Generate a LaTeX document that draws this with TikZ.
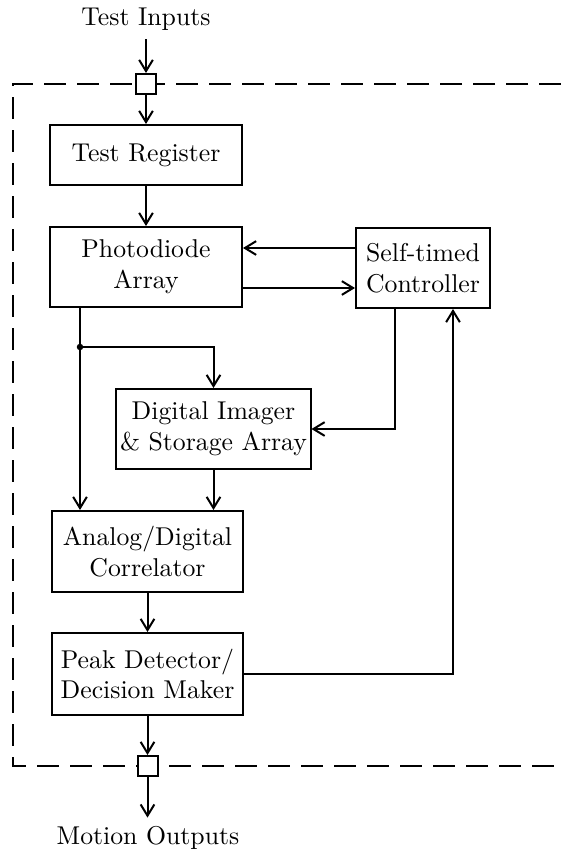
\documentclass[tikz,border=0pt]{standalone}
\usetikzlibrary{arrows.meta}
\begin{document}
\begin{tikzpicture}[x=0.4pt,y=-0.4pt,
  every node/.style={font=\fontsize{10.3}{12.3}\selectfont},
  blk/.style={draw, line width=0.8pt, align=center, inner sep=0pt},
  port/.style={draw, line width=0.8pt, fill=white, inner sep=0pt, minimum size=8pt},
  conn/.style={line width=0.8pt},
  arr/.style={conn, -{Straight Barb[length=4.5pt,width=5.5pt,line width=0.8pt]}},
  bound/.style={line width=0.8pt, dash pattern=on 8.8pt off 4.4pt}]
\useasboundingbox (0,0) rectangle (561,855);
% boundary
\draw[bound] (561,84) -- (13,84) -- (13,766) -- (561,766);
% nodes
\node (ti) at (146,19) {Test Inputs};
\node[port] (in) at (146,84) {};
\node[blk, minimum width=76.8pt, minimum height=24pt] (tr) at (146,155) {Test Register};
\node[blk, minimum width=76.8pt, minimum height=32pt] (pd) at (146,267) {Photodiode\\Array};
\node[blk, minimum width=53.6pt, minimum height=32pt] (ctrl) at (423,268) {Self-timed\\Controller};
\node[blk, minimum width=77.6pt, minimum height=32pt] (img) at (213.5,429) {Digital Imager\\\& Storage Array};
\node[blk, minimum width=76.4pt, minimum height=32.4pt] (corr) at (147.5,551.5) {Analog/Digital\\Correlator};
\node[blk, minimum width=76.4pt, minimum height=32.8pt] (pk) at (147.5,674) {Peak Detector/\\Decision Maker};
\node[port] (out) at (147.5,766) {};
\node (mo) at (148,838) {Motion Outputs};
% helper coordinates
\coordinate (dot) at (80,347);
\coordinate (ya) at (0,248);
\coordinate (yb) at (0,288);
\coordinate (cx) at (395,0);
\coordinate (fx) at (453,0);
% connectors
\draw[arr] (ti.south) -- (in.north);
\draw[arr] (in.south) -- (tr.north -| in.south);
\draw[arr] (tr.south) -- (pd.north -| tr.south);
\draw[arr] (ctrl.west |- ya) -- (pd.east |- ya);
\draw[arr] (pd.east |- yb) -- (ctrl.west |- yb);
\draw[conn] (pd.south -| dot) -- (dot);
\fill (dot) circle (1.3pt);
\draw[arr] (dot) -- (corr.north -| dot);
\draw[arr] (dot) -| (img.north);
\draw[arr] (ctrl.south -| cx) |- (img.east);
\draw[arr] (img.south) -- (corr.north -| img.south);
\draw[arr] (corr.south) -- (pk.north -| corr.south);
\draw[arr] (pk.east) -| (ctrl.south -| fx);
\draw[arr] (pk.south) -- (out.north);
\draw[arr] (out.south) -- (mo.north -| out.south);
\end{tikzpicture}
\end{document}
